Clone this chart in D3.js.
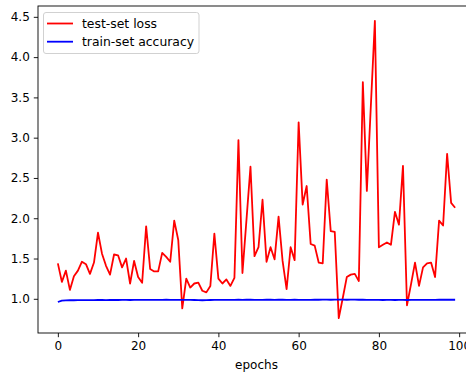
<!DOCTYPE html>
<html>
<head>
<meta charset="utf-8">
<script src="https://cdn.jsdelivr.net/npm/d3@7"></script>
<style>
  body { margin: 0; background: #fff; }
  text { font-family: "DejaVu Sans", sans-serif; }
</style>
</head>
<body>
<div id="chart"></div>
<script>
// values
const testLoss = [
  1.44, 1.21, 1.35, 1.11, 1.28, 1.35, 1.46, 1.43, 1.31, 1.45,
  1.82, 1.56, 1.41, 1.30, 1.55, 1.54, 1.39, 1.50, 1.19, 1.47,
  1.27, 1.20, 1.90, 1.37, 1.34, 1.34, 1.57, 1.52, 1.46, 1.97,
  1.73, 0.88, 1.25, 1.14, 1.19, 1.20, 1.10, 1.08, 1.16, 1.81,
  1.25, 1.19, 1.24, 1.16, 1.26, 2.97, 1.32, 1.98, 2.64, 1.53,
  1.64, 2.23, 1.46, 1.64, 1.49, 2.02, 1.47, 1.12, 1.64, 1.48,
  3.19, 2.17, 2.40, 1.68, 1.66, 1.45, 1.44, 2.48, 1.84, 1.83,
  0.76, 1.01, 1.27, 1.30, 1.31, 1.22, 3.69, 2.34, 3.40, 4.45,
  1.64, 1.67, 1.70, 1.67, 2.08, 1.92, 2.65, 0.92, 1.18, 1.45,
  1.16, 1.39, 1.44, 1.45, 1.27, 1.97, 1.91, 2.80, 2.19, 2.13
];
const trainAcc = [
  0.960, 0.978, 0.981, 0.982, 0.982, 0.983, 0.983, 0.984, 0.984, 0.983,
  0.985, 0.985, 0.984, 0.985, 0.986, 0.985, 0.986, 0.986, 0.985, 0.986,
  0.987, 0.986, 0.987, 0.987, 0.986, 0.987, 0.987, 0.988, 0.987, 0.987,
  0.987, 0.986, 0.987, 0.986, 0.985, 0.984, 0.982, 0.983, 0.985, 0.986,
  0.986, 0.987, 0.986, 0.987, 0.987, 0.988, 0.987, 0.988, 0.988, 0.987,
  0.986, 0.987, 0.988, 0.988, 0.987, 0.988, 0.988, 0.987, 0.987, 0.988,
  0.987, 0.986, 0.986, 0.987, 0.988, 0.988, 0.989, 0.989, 0.988, 0.989,
  0.989, 0.989, 0.988, 0.989, 0.989, 0.988, 0.988, 0.987, 0.987, 0.986,
  0.986, 0.985, 0.986, 0.986, 0.985, 0.986, 0.986, 0.985, 0.986, 0.987,
  0.987, 0.986, 0.986, 0.986, 0.987, 0.988, 0.988, 0.988, 0.988, 0.988
];
const epochs = d3.range(testLoss.length);
const xTicks = [0, 20, 40, 60, 80, 100];
const yTicks = [1.0, 1.5, 2.0, 2.5, 3.0, 3.5, 4.0, 4.5];
const seriesNames = ["test-set loss", "train-set accuracy"];
const seriesColors = ["#ff0000", "#0000ff"];

const W = 466, H = 373;
const margin = { top: 6, left: 38, bottom: 40 };
const plotRight = 475;   // right spine lies past the cropped edge

const svg = d3.select("#chart").append("svg")
  .attr("width", W)
  .attr("height", H);

// matplotlib style 5% margins
const xMin = 0, xMax = epochs.length - 1;
const xPad = (xMax - xMin) * 0.05;
const allY = testLoss.concat(trainAcc);
const yMin = d3.min(allY), yMax = d3.max(allY);
const yPad = (yMax - yMin) * 0.05;

const x = d3.scaleLinear()
  .domain([xMin - xPad, xMax + xPad])
  .range([margin.left, plotRight]);
const y = d3.scaleLinear()
  .domain([yMin - yPad, yMax + yPad])
  .range([H - margin.bottom, margin.top]);

const line = d3.line()
  .x((d, i) => x(epochs[i]))
  .y(d => y(d));

// lines
[testLoss, trainAcc].forEach((vals, k) => {
  svg.append("path")
    .datum(vals)
    .attr("fill", "none")
    .attr("stroke", seriesColors[k])
    .attr("stroke-width", 1.8)
    .attr("stroke-linejoin", "round")
    .attr("d", line);
});

// axes
const xAxis = svg.append("g")
  .attr("transform", "translate(0," + (H - margin.bottom) + ")")
  .call(d3.axisBottom(x).tickValues(xTicks).tickSize(4.2).tickPadding(4));
const yAxis = svg.append("g")
  .attr("transform", "translate(" + margin.left + ",0)")
  .call(d3.axisLeft(y).tickValues(yTicks).tickFormat(d3.format(".1f")).tickSize(4.2).tickPadding(4));

[xAxis, yAxis].forEach(g => {
  g.select(".domain").remove();
  g.selectAll("line").attr("stroke", "#000").attr("stroke-width", 0.9);
  g.selectAll("text").attr("fill", "#000").style("font-size", "12px")
    .style("font-family", "'DejaVu Sans', sans-serif");
});

// spines
svg.append("rect")
  .attr("x", margin.left)
  .attr("y", margin.top)
  .attr("width", plotRight - margin.left)
  .attr("height", H - margin.bottom - margin.top)
  .attr("fill", "none")
  .attr("stroke", "#000")
  .attr("stroke-width", 0.9);

svg.append("text")
  .attr("x", (margin.left + plotRight) / 2)
  .attr("y", 369)
  .attr("text-anchor", "middle")
  .style("font-size", "12px")
  .text("epochs");

// legend
const legend = svg.append("g");
legend.append("rect")
  .attr("x", 43.5).attr("y", 12.5)
  .attr("width", 155.5).attr("height", 41)
  .attr("rx", 2.5)
  .attr("fill", "#fff").attr("fill-opacity", 0.8)
  .attr("stroke", "#cccccc").attr("stroke-width", 0.9);

seriesNames.forEach((name, k) => {
  const ly = 23.5 + k * 18.2;
  legend.append("line")
    .attr("x1", 47).attr("x2", 73)
    .attr("y1", ly).attr("y2", ly)
    .attr("stroke", seriesColors[k])
    .attr("stroke-width", 1.8);
  legend.append("text")
    .attr("x", 82).attr("y", ly + 4.5)
    .style("font-size", "12.4px")
    .text(name);
});
</script>
</body>
</html>
